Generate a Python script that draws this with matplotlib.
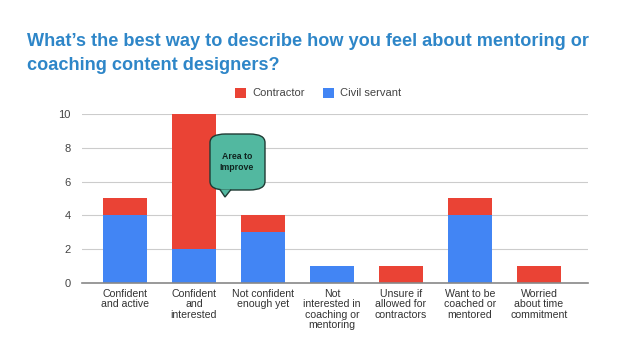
import numpy as np
import matplotlib.pyplot as plt
from matplotlib.patches import FancyBboxPatch, Polygon

categories = ["Confident\nand active", "Confident\nand\ninterested", "Not confident\nenough yet",
              "Not\ninterested in\ncoaching or\nmentoring", "Unsure if\nallowed for\ncontractors",
              "Want to be\ncoached or\nmentored", "Worried\nabout time\ncommitment"]
civil_servant = [4, 2, 3, 1, 0, 4, 0]
contractor = [1, 8, 1, 0, 1, 1, 1]
yticks = [0, 2, 4, 6, 8, 10]

plt.rcParams['font.family'] = ['Liberation Sans', 'DejaVu Sans']

fig = plt.figure(figsize=(6.2, 3.45), dpi=100)
ax = fig.add_axes([82/620, 1 - 283/345, (588-82)/620, (283-114)/345])

x = np.arange(len(categories))
blue = '#4285F4'
red = '#EA4335'
ax.bar(x, civil_servant, width=0.64, color=blue, label='Civil servant', zorder=2)
ax.bar(x, contractor, width=0.64, bottom=civil_servant, color=red, label='Contractor', zorder=2)

ax.set_xlim(-0.62, 6.71)
ax.set_ylim(0, 10)
ax.set_yticks(yticks)
ax.set_xticks(x)
ax.set_xticklabels(categories, fontsize=7.6, color='#333333', linespacing=1.08)
ax.tick_params(axis='y', labelsize=8, labelcolor='#444444', length=0, pad=8)
ax.tick_params(axis='x', length=0, pad=4)
ax.grid(axis='y', color='#cccccc', linewidth=0.8, zorder=0)
for s in ['top', 'right', 'left']:
    ax.spines[s].set_visible(False)
ax.spines['bottom'].set_color('#888888')
ax.spines['bottom'].set_linewidth(1.2)
ax.spines['bottom'].set_zorder(3)

# legend
handles, labels = ax.get_legend_handles_labels()
fig.legend(handles[::-1], labels[::-1], loc='center', bbox_to_anchor=(318/620, 1 - 93/345),
           ncol=2, frameon=False, fontsize=8, handlelength=1, handleheight=1,
           handletextpad=0.6, columnspacing=1.6, labelcolor='#444444')

# title
fig.text(27/620, 1 - 42/345, "What\u2019s the best way to describe how you feel about mentoring or",
         fontsize=13.1, fontweight='bold', color='#2E86C8', va='center')
fig.text(27/620, 1 - 65/345, "coaching content designers?",
         fontsize=13.1, fontweight='bold', color='#2E86C8', va='center')

# callout
teal = '#52B8A0'
box = FancyBboxPatch((210/620, 1 - 190/345), 55/620, 56/345,
                     boxstyle="round,pad=0,rounding_size=0.025", transform=fig.transFigure,
                     facecolor=teal, edgecolor='#1f3b34', linewidth=1, zorder=5)
fig.add_artist(box)
tri = Polygon([(220/620, 1 - 189.5/345), (225/620, 1 - 197/345), (231/620, 1 - 189.5/345)],
              closed=False, transform=fig.transFigure, facecolor=teal,
              edgecolor='#1f3b34', linewidth=1, zorder=6)
fig.add_artist(tri)
fig.text(237/620, 1 - 162/345, "Area to\nImprove", fontsize=6.3, fontweight='bold',
         color='#10241f', ha='center', va='center', zorder=7, linespacing=1.3)

fig.savefig('out.png', dpi=100, facecolor='white')
